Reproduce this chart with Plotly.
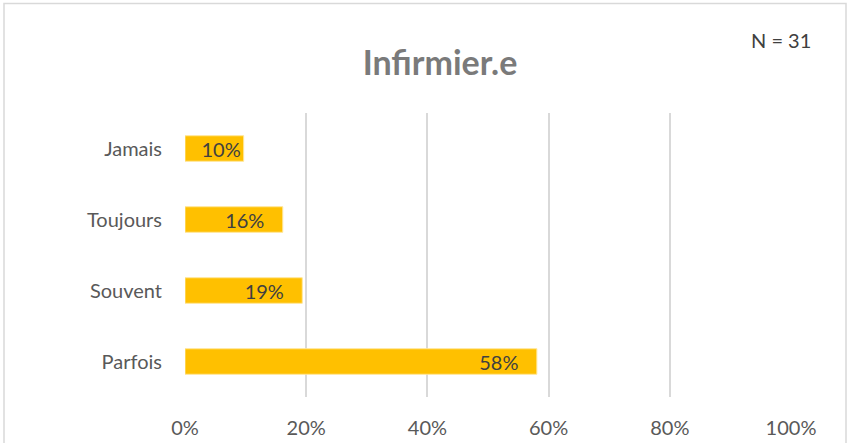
import plotly.graph_objects as go

categories = ["Parfois", "Souvent", "Toujours", "Jamais"]
values = [58.06, 19.35, 16.13, 9.68]
labels = ["58%", "19%", "16%", "10%"]
tick_vals = [0, 20, 40, 60, 80, 100]
tick_text = ["0%", "20%", "40%", "60%", "80%", "100%"]

W, H = 847, 443
L, R, T, B = 185, 56, 113, 46
pw, ph = W - L - R, H - T - B

FONT = "Lato, Open Sans, sans-serif"

# Excel-style "inside end" padding where the bar is long enough
bar_text = [lab + ("\u00a0" * 3 if v > 12 else "") for lab, v in zip(labels, values)]

fig = go.Figure(go.Bar(
    y=categories, x=values, orientation="h",
    marker=dict(color="#FFC000", line=dict(color="#FFE699", width=1)),
    width=0.36,
    text=bar_text, textposition="inside", insidetextanchor="end",
    textfont=dict(family=FONT, size=20, color="#404040"),
    hoverinfo="skip",
))

fig.update_layout(
    width=W, height=H,
    margin=dict(l=L, r=R, t=T, b=B, pad=0, autoexpand=False),
    paper_bgcolor="white", plot_bgcolor="white",
    showlegend=False,
    uniformtext=dict(minsize=20, mode="show"),
    title=dict(text="<b>Infirmier.e</b>", x=(440 - L) / pw, xref="paper", xanchor="center",
               y=1 - 63 / H, yanchor="middle",
               font=dict(family=FONT, size=34, color="#7a7a7a")),
    xaxis=dict(range=[0, 100], tickvals=tick_vals, ticktext=tick_text,
               showgrid=True, gridcolor="#d9d9d9", gridwidth=2,
               zeroline=False, showline=False, ticks="", automargin=False,
               tickfont=dict(family=FONT, size=20, color="#595959"),
               ticklabelstandoff=17, fixedrange=True),
    yaxis=dict(range=[-0.5, 3.5], showgrid=False, zeroline=False, showline=False,
               ticks="", automargin=False,
               tickfont=dict(family=FONT, size=20, color="#595959"),
               ticklabelstandoff=22, fixedrange=True),
    annotations=[dict(text="N = 31", xref="paper", yref="paper",
                      x=(813 - L) / pw, y=1 + (T - 40) / ph,
                      xanchor="right", yanchor="middle", showarrow=False,
                      font=dict(family=FONT, size=20, color="#404040"))],
    shapes=[dict(type="rect", xref="paper", yref="paper",
                 x0=(4 - L) / pw, x1=(846 - L) / pw,
                 y0=1 - (H + 5 - T) / ph, y1=1 + (T - 3.5) / ph,
                 line=dict(color="#d9d9d9", width=1.5), fillcolor="rgba(0,0,0,0)",
                 layer="below")],
)

fig.write_html("out.html", config={"displayModeBar": False},
               post_script="document.body.style.margin='0';")
